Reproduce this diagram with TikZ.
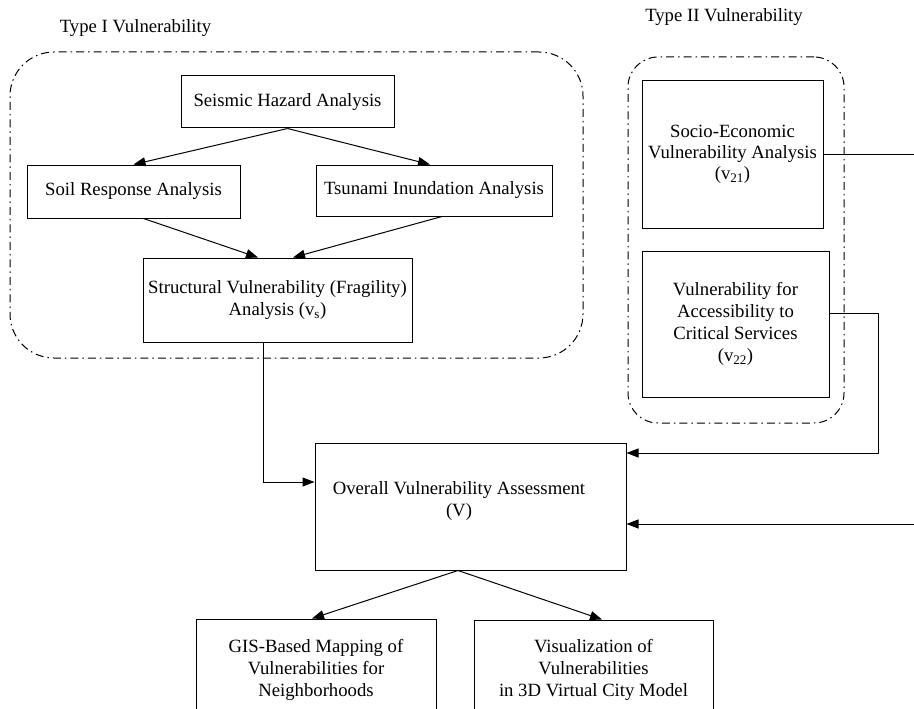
\documentclass[tikz,border=0pt]{standalone}
\usepackage{fontspec}
\setmainfont{Liberation Serif}
\usetikzlibrary{arrows.meta}
\begin{document}
\begin{tikzpicture}[x=1pt,y=-1pt,
  box/.style={draw,line width=1pt,rectangle,inner sep=0pt,align=center,font=\fontsize{18.7}{22}\selectfont},
  txt/.style={inner sep=0pt,align=center,font=\fontsize{18.7}{22}\selectfont},
  group/.style={draw,line width=1pt,dash pattern=on 8pt off 4pt on 1.5pt off 4pt,inner sep=0pt},
  conn/.style={line width=1pt},
  arr/.style={conn,-{Triangle[length=12pt,width=9pt]}}
]
\useasboundingbox (0,0) rectangle (914,709);
\clip (0,0) rectangle (914,709);
% groups
\node[group,rounded corners=44pt,minimum width=573pt,minimum height=306pt] (g1) at (296.5,205) {};
\node[group,rounded corners=30pt,minimum width=216pt,minimum height=366pt] (g2) at (736,240) {};
\node[txt] (t1) at (135.5,28) {Type I Vulnerability};
\node[txt] (t2) at (724,17) {Type II Vulnerability};
% boxes
\node[box,minimum width=213pt,minimum height=52pt] (sha) at (287.5,102) {Seismic Hazard Analysis};
\node[box,minimum width=213pt,minimum height=53pt] (soil) at (133.5,191.5) {Soil Response Analysis};
\node[box,minimum width=236pt,minimum height=51pt] (tsu) at (434,190.5) {Tsunami Inundation Analysis};
\node[box,minimum width=269pt,minimum height=84pt] (str) at (277.5,300) {Structural Vulnerability (Fragility)\\Analysis (v\textsubscript{s})};
\node[box,minimum width=181pt,minimum height=147pt,font=\fontsize{18.7}{21}\selectfont] (v21) at (732.5,154.5) {Socio-Economic\\Vulnerability Analysis\\(v\textsubscript{21})};
\node[box,minimum width=187pt,minimum height=146pt] (v22) at (735.5,324) {Vulnerability for\\Accessibility to\\Critical Services\\(v\textsubscript{22})};
\node[box,minimum width=311pt,minimum height=127pt] (ov) at (470.5,506.5) {};
\node[txt] (ovt) at (459,501) {Overall Vulnerability Assessment\\(V)};
\node[box,minimum width=240pt,minimum height=101pt] (gis) at (316,669.5) {GIS-Based Mapping of\\Vulnerabilities for\\Neighborhoods};
\node[box,minimum width=239pt,minimum height=99pt] (vis) at (593.5,669.5) {Visualization of\\Vulnerabilities\\in 3D Virtual City Model};
% free ends at the right border
\coordinate (r1) at (914,154.5);
\coordinate (r2) at (914,524);
% connectors
\draw[arr] (sha.south) -- (soil.north);
\draw[arr] (sha.south) -- ([xshift=-4pt]tsu.north);
\draw[arr] ([xshift=10pt]soil.south) -- ([xshift=-19.5pt]str.north);
\draw[arr] ([xshift=8pt]tsu.south) -- ([xshift=15.5pt]str.north);
\draw[arr] ([xshift=-14.5pt]str.south) |- ([yshift=24.5pt]ov.west);
\draw[conn] (v21.east) -- (r1);
\draw[arr] ([yshift=11pt]v22.east) -- ++(49,0) |- ([yshift=53.5pt]ov.east);
\draw[arr] (r2) -- ([yshift=-17.5pt]ov.east);
\draw[arr] ([xshift=-12.5pt]ov.south) -- ([xshift=-4pt]gis.north);
\draw[arr] ([xshift=-12.5pt]ov.south) -- ([xshift=8.5pt]vis.north);
\end{tikzpicture}
\end{document}
